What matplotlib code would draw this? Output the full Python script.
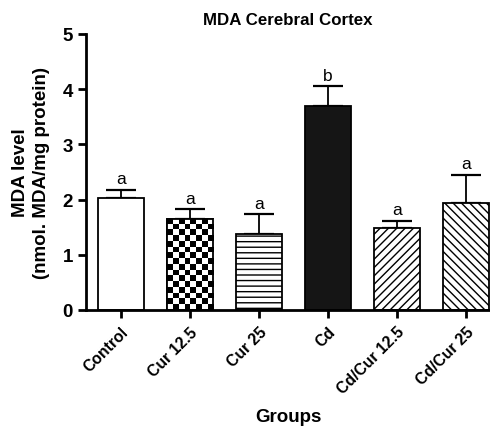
import numpy as np
import matplotlib
matplotlib.use("Agg")
import matplotlib.pyplot as plt

groups = ["Control", "Cur 12.5", "Cur 25", "Cd", "Cd/Cur 12.5", "Cd/Cur 25"]
means = [2.03, 1.65, 1.38, 3.69, 1.48, 1.94]
sem = [0.15, 0.18, 0.36, 0.37, 0.14, 0.51]
letters = ["a", "a", "a", "b", "a", "a"]

plt.rcParams['font.family'] = ['Liberation Sans', 'DejaVu Sans']
plt.rcParams['hatch.linewidth'] = 1.0

fig = plt.figure(figsize=(4.9, 4.27), dpi=100)
ax = fig.add_axes([0.1755, 0.2717, 0.8245, 0.6464])

x = np.arange(len(groups))
width = 0.67
faces = ["white", "white", "white", "#151515", "white", "white"]
hatches = [None, None, "---", None, "////", "\\\\\\\\"]

bars = ax.bar(x, means, width, color=faces, edgecolor="black", linewidth=1.3, zorder=2)
for b, h in zip(bars, hatches):
    if h:
        b.set_hatch(h)

# checkerboard fill for Cur 12.5
b = bars[1]
rows, cols = 16, 8
checker = (np.add.outer(np.arange(rows), np.arange(cols)) % 2).astype(float)
im = ax.imshow(checker, cmap="gray", extent=(b.get_x(), b.get_x() + b.get_width(), 0, b.get_height()),
               aspect="auto", interpolation="nearest", zorder=2.5)
im.set_clip_path(b)
ax.bar(x[1], means[1], width, fill=False, edgecolor="black", linewidth=1.3, zorder=3)

ax.errorbar(x, means, yerr=[np.zeros(len(sem)), sem], fmt="none", ecolor="black",
            elinewidth=1.3, capsize=11, capthick=1.6, zorder=1)

for xi, m, s, l in zip(x, means, sem, letters):
    ax.text(xi, m + s + 0.06, l, ha="center", va="bottom", fontsize=12.5)

ax.set_xlim(-0.507, 5.35)
ax.set_ylim(0, 5)
ax.set_yticks([0, 1, 2, 3, 4, 5])
ax.set_xticks(x)
ax.set_xticklabels(groups, rotation=45, ha="right", rotation_mode="anchor",
                   fontsize=11.3, fontweight="bold")
for t in ax.get_yticklabels():
    t.set_fontsize(13.5)
    t.set_fontweight("bold")

ax.spines["top"].set_visible(False)
ax.spines["right"].set_visible(False)
ax.spines["left"].set_linewidth(2)
ax.spines["bottom"].set_linewidth(2)
ax.tick_params(axis="both", direction="out", length=6, width=2)
ax.tick_params(axis="x", pad=4)

ax.set_title("MDA Cerebral Cortex", fontsize=12.2, fontweight="bold", pad=7)
ax.set_ylabel("MDA level\n(nmol. MDA/mg protein)", fontsize=13.5, fontweight="bold",
              labelpad=9, linespacing=1.3)
ax.set_xlabel("Groups", fontsize=13.5, fontweight="bold", labelpad=8)

fig.savefig("out.png", dpi=100)
